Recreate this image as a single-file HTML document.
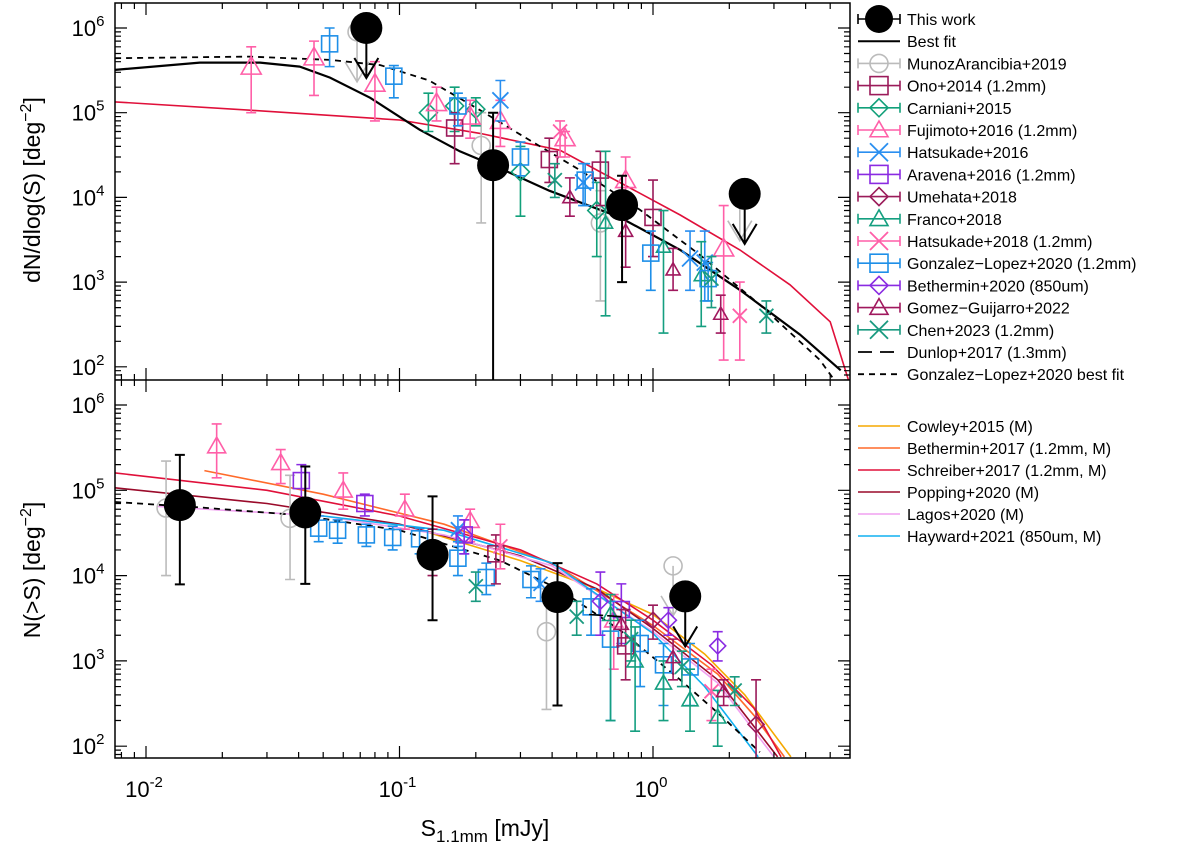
<!DOCTYPE html>
<html><head><meta charset="utf-8"><style>
body{margin:0;background:#fff}
svg{display:block;font-family:"Liberation Sans",sans-serif}
</style></head><body>
<svg id="c" width="1200" height="851" viewBox="0 0 1200 851" xmlns="http://www.w3.org/2000/svg"></svg>
<script>
// ---------- data ----------
// [S (mJy), value, errLow, errHigh]
const thisWorkTop=[[0.074,1.0e6,null,null,'ul'],[0.234,2.4e4,1,1.0e5],[0.755,8.1e3,1.0e3,1.8e4],[2.3,1.1e4,null,null,'ul']];
const thisWorkBot=[[0.0136,6.7e4,7.9e3,2.6e5],[0.0425,5.5e4,8e3,1.9e5],[0.135,1.75e4,3e3,8.5e4],[0.42,5.6e3,300,1.4e4],[1.34,5.7e3,null,null,'ul']];
const munozTop=[[0.068,9e5,null,null,'ul'],[0.21,4.1e4,5e3,1e5],[0.62,5e3,600,1.2e4],[2.2,1.2e4,null,null,'ul']];
const munozBot=[[0.012,6.2e4,1e4,2.2e5],[0.037,4.7e4,9e3,1.5e5],[0.38,2.2e3,270,7e3],[1.2,1.3e4,null,null,'ul']];
const onoTop=[[0.165,6.6e4,2.5e4,1e5],[0.39,2.8e4,1.5e4,5e4],[0.62,2.1e4,8e3,3.5e4],[1.0,5.8e3,2e3,1.6e4]];
const onoBot=[[0.24,1.8e4,8e3,3e4],[0.78,1.5e3,600,4e3]];
const carnianiTop=[[0.13,1e5,6e4,1.7e5],[0.165,1.2e5,6e4,2e5],[0.2,1.1e5,7e4,1.5e5],[0.3,2e4,6e3,4e4],[0.6,7e3,2e3,1.5e4]];
const fujimotoTop=[[0.026,3.5e5,1e5,6e5],[0.046,4.5e5,1.6e5,7e5],[0.08,2.2e5,8e4,4e5],[0.14,1.3e5,8e4,2e5],[0.19,9e4,5e4,1.4e5],[0.25,8e4,4e4,1.4e5],[0.45,5e4,3e4,6e4],[0.78,1.6e4,6e3,3e4],[1.9,2.5e3,120,8e3]];
const fujimotoBot=[[0.019,3.3e5,1.4e5,6e5],[0.034,2.1e5,1.2e5,3e5],[0.06,1e5,6e4,1.6e5],[0.105,6e4,3.5e4,9e4],[0.19,4.4e4,2.5e4,6e4],[0.7,3e3,800,6e3]];
const hatsukadeTop=[[0.25,1.4e5,8e4,2.4e5],[0.53,1.5e4,8e3,2.5e4],[1.4,1.9e3,800,4e3],[1.6,1.7e3,600,4e3]];
const hatsukadeBot=[[0.17,3.5e4,2.2e4,5e4],[0.36,8e3,5e3,1.2e4]];
const aravenaBot=[[0.041,1.3e5,7e4,2e5],[0.073,7e4,5e4,9e4],[0.18,3e4,1.8e4,4.5e4],[0.75,4e3,1.6e3,8e3]];
const umehataBot=[[0.135,2e4,1e4,3.5e4],[1.0,3e3,1.8e3,4.5e3],[2.55,180,60,600]];
const francoTop=[[1.1,2.6e3,250,7e3],[1.55,1.2e3,300,3e3],[0.65,5e3,400,3.5e4]];
const francoBot=[[0.68,3.5e3,200,6e3],[0.85,1e3,150,2.5e3],[1.1,550,200,1e3],[1.4,350,150,800],[1.8,220,100,450]];
const hatsu18Top=[[0.43,6e4,3e4,8e4],[2.2,400,120,1e3]];
const hatsu18Bot=[[0.25,2.2e4,1.2e4,4e4],[1.7,440,200,800]];
const gonzalezTop=[[0.053,6.5e5,3.5e5,1e6],[0.095,2.7e5,1.5e5,3.6e5],[0.17,1.2e5,7e4,1.7e5],[0.3,3e4,1.8e4,4.5e4],[0.54,1.6e4,8e3,2.5e4],[0.98,2.2e3,800,4e3],[1.65,1.1e3,600,1.7e3]];
const gonzalezBot=[[0.048,3.6e4,2.5e4,5e4],[0.057,3.4e4,2.4e4,4.5e4],[0.074,3e4,2.2e4,4e4],[0.094,2.8e4,2e4,3.8e4],[0.12,2.7e4,1.8e4,3.6e4],[0.17,1.6e4,1e4,2.5e4],[0.22,9.5e3,6e3,1.4e4],[0.33,9e3,5.5e3,1.3e4],[0.57,4.3e3,2e3,7e3],[0.68,1.8e3,200,5e3],[0.89,1.6e3,500,3e3],[1.1,900,300,1.6e3],[1.4,850,300,1.6e3]];
const bethermin20Bot=[[0.18,3e4,1.8e4,4.5e4],[0.62,5e3,2e3,1.1e4],[1.15,3e3,2e3,4.2e3],[1.8,1.5e3,1e3,2.2e3]];
const gomezTop=[[0.47,1e4,6e3,1.7e4],[0.78,4e3,1.5e3,8e3],[1.2,1.4e3,800,2.5e3],[1.85,420,250,700]];
const gomezBot=[[0.75,2.7e3,1.5e3,4e3],[1.2,1.1e3,600,1.8e3],[1.9,440,300,600]];
const chenTop=[[0.41,1.6e4,1e4,2.5e4],[1.7,1.1e3,500,2e3],[2.8,400,250,600]];
const chenBot=[[0.2,7.5e3,5e3,1.1e4],[0.5,3.3e3,2e3,5e3],[0.82,1.8e3,1e3,3e3],[1.3,850,500,1.3e3],[2.1,450,300,650]];
// model curves
const bestFitX=[0.00755,0.0163,0.0282,0.0404,0.0532,0.0766,0.12,0.173,0.234,0.39,0.74,1.28,2.2,3.8,5.5];
const bestFitY=[3.2e5,3.9e5,3.9e5,3.5e5,2.6e5,1.5e5,6.3e4,3.5e4,2.4e4,1.2e4,5.8e3,2.4e3,810,240,91];
const glFitTopX=[0.00755,0.0257,0.0532,0.084,0.131,0.208,0.30,0.515,0.89,1.53,2.64,4.56,5.2];
const glFitTopY=[4.4e5,4.6e5,4.2e5,3.65e5,2.4e5,1.07e5,5.5e4,2.1e4,7.1e3,2.1e3,540,120,69];
const redTopX=[0.00755,0.0257,0.1,0.208,0.43,0.74,1.28,2.2,3.47,5.0,5.9];
const redTopY=[1.34e5,1.07e5,8.2e4,5.7e4,3.6e4,1.5e4,6.2e3,2.4e3,930,340,70];
const glFitBotX=[0.00755,0.0163,0.0404,0.1,0.25,0.43,0.74,1.28,1.84,2.64];
const glFitBotY=[7.3e4,6.3e4,5.1e4,3.4e4,1.5e4,6.8e3,2.3e3,600,233,85];
const cowleyX=[0.13,0.3,0.6,1.0,1.6,2.3,3.5];
const cowleyY=[3.2e4,1.5e4,7e3,3.5e3,1.2e3,400,75];
const bethermin17X=[0.017,0.05,0.15,0.4,1.0,1.8,2.5,3.3];
const bethermin17Y=[1.7e5,9e4,4e4,1.4e4,2.6e3,700,230,75];
const schreiberX=[0.00755,0.03,0.1,0.3,0.6,1.0,1.7,2.5,3.2];
const schreiberY=[1.6e5,1.0e5,5e4,2e4,8e3,3e3,900,280,75];
const poppingX=[0.00755,0.03,0.1,0.3,0.6,1.0,1.8,3.1];
const poppingY=[1.07e5,7e4,4e4,1.7e4,7e3,2.4e3,600,75];
const lagosX=[0.011,0.05,0.15,0.4,1.0,1.8,3.0];
const lagosY=[6.5e4,5e4,3e4,1.3e4,2.2e3,550,75];
const haywardX=[0.05,0.15,0.4,1.0,1.6,2.6];
const haywardY=[5e4,3.4e4,1.4e4,2.1e3,500,75];
const xTicks=[-2,-1,0];
const yTicks=[2,3,4,5,6];

// ---------- axes ----------
const NS='http://www.w3.org/2000/svg';
const svg=document.getElementById('c');
const L=115,R=850,T=3,M=380,B=758;
const xs=v=>653+(Math.log10(v))*253.5;
const ysT=v=>28+(6-Math.log10(v))*84.7;
const ysB=v=>405+(6-Math.log10(v))*85.3;
function el(tag,attrs,parent){const e=document.createElementNS(NS,tag);for(const k in attrs)e.setAttribute(k,attrs[k]);(parent||svg).appendChild(e);return e;}
const clipT=el('clipPath',{id:'cT'});el('rect',{x:L,y:T,width:R-L,height:M-T},clipT);
const clipB=el('clipPath',{id:'cB'});el('rect',{x:L,y:M,width:R-L,height:B-M},clipB);
const gT=el('g',{'clip-path':'url(#cT)'});
const gB=el('g',{'clip-path':'url(#cB)'});

function curve(g,X,Y,ys,color,dash,w,name){
  const d=X.map((x,i)=>(i?'L':'M')+xs(x).toFixed(1)+','+ys(Y[i]).toFixed(1)).join('');
  const p=el('path',{d:d,fill:'none',stroke:color,'stroke-width':w||1.6},g);
  if(dash)p.setAttribute('stroke-dasharray',dash);
  
  
}
function marker(g,type,cx,cy,color,s){
  let e;
  if(type==='circle')e=el('circle',{cx,cy,r:s,fill:'none',stroke:color,'stroke-width':1.6},g);
  else if(type==='dot')e=el('circle',{cx,cy,r:s,fill:'#000'},g);
  else if(type==='square')e=el('rect',{x:cx-s,y:cy-s,width:2*s,height:2*s,fill:'none',stroke:color,'stroke-width':1.6},g);
  else if(type==='diamond')e=el('path',{d:`M${cx},${cy-s}L${cx+s},${cy}L${cx},${cy+s}L${cx-s},${cy}Z`,fill:'none',stroke:color,'stroke-width':1.6},g);
  else if(type==='tri')e=el('path',{d:`M${cx},${cy-s}L${cx+s},${cy+s*0.75}L${cx-s},${cy+s*0.75}Z`,fill:'none',stroke:color,'stroke-width':1.6},g);
  else if(type==='x')e=el('path',{d:`M${cx-s},${cy-s}L${cx+s},${cy+s}M${cx+s},${cy-s}L${cx-s},${cy+s}`,fill:'none',stroke:color,'stroke-width':1.8},g);
  return e;
}
function series(g,data,ys,type,color,s,name){
  data.forEach(d=>{
    const cx=xs(d[0]),cy=ys(d[1]);
    const grp=el('g',{},g);
    
    
    const lw=type==='dot'?2:1.6;
    if(d[4]==='ul'){
      const ay=cy+50;
      el('path',{d:`M${cx},${cy}L${cx},${ay}M${cx-12},${ay-20}L${cx},${ay}L${cx+12},${ay-20}`,fill:'none',stroke:color,'stroke-width':lw},grp);
    }else if(d[2]!=null){
      const y1=ys(d[2]),y2=ys(d[3]);
      el('path',{d:`M${cx},${y1}L${cx},${y2}M${cx-5},${y1}L${cx+5},${y1}M${cx-5},${y2}L${cx+5},${y2}`,fill:'none',stroke:color,'stroke-width':lw},grp);
    }
    marker(grp,type,cx,cy,color,s);
  });
}
// ---- top panel ----
curve(gT,redTopX,redTopY,ysT,'#e0103a',null,1.6,'schreiber-curve-top');
curve(gT,glFitTopX,glFitTopY,ysT,'#000','6,5',1.8,'gonzalez-lopez-fit-top');
curve(gT,bestFitX,bestFitY,ysT,'#000',null,2.2,'best-fit-curve');
series(gT,munozTop,ysT,'circle','#bbbbbb',9,'munoz');
series(gT,carnianiTop,ysT,'diamond','#12a07a',9,'carniani');
series(gT,fujimotoTop,ysT,'tri','#ff5fa8',10,'fujimoto');
series(gT,onoTop,ysT,'square','#9b1b5a',8,'ono');
series(gT,hatsukadeTop,ysT,'x','#2a8ff0',8,'hatsukade');
series(gT,francoTop,ysT,'tri','#159f80',7,'franco');
series(gT,hatsu18Top,ysT,'x','#ff5fa8',7,'hatsukade2018');
series(gT,gonzalezTop,ysT,'square','#1e8fe8',8,'gonzalez-lopez');
series(gT,gomezTop,ysT,'tri','#a0185e',7,'gomez-guijarro');
series(gT,chenTop,ysT,'x','#1a9a80',7,'chen');
series(gT,thisWorkTop,ysT,'dot','#000',16,'this-work');
// ---- bottom panel ----
curve(gB,cowleyX,cowleyY,ysB,'#f5a800',null,1.6,'cowley-curve');
curve(gB,bethermin17X,bethermin17Y,ysB,'#ff6a2a',null,1.6,'bethermin2017-curve');
curve(gB,schreiberX,schreiberY,ysB,'#e0103a',null,1.6,'schreiber-curve');
curve(gB,poppingX,poppingY,ysB,'#9a0a2a',null,1.6,'popping-curve');
curve(gB,lagosX,lagosY,ysB,'#f0a0f0',null,1.6,'lagos-curve');
curve(gB,haywardX,haywardY,ysB,'#10b0f0',null,1.6,'hayward-curve');
curve(gB,glFitBotX,glFitBotY,ysB,'#000','6,5',1.8,'gonzalez-lopez-fit-bottom');
series(gB,munozBot,ysB,'circle','#bbbbbb',9,'munoz');
series(gB,fujimotoBot,ysB,'tri','#ff5fa8',9,'fujimoto');
series(gB,aravenaBot,ysB,'square','#8a2be2',8,'aravena');
series(gB,gonzalezBot,ysB,'square','#1e8fe8',8,'gonzalez-lopez');
series(gB,onoBot,ysB,'square','#9b1b5a',8,'ono');
series(gB,hatsukadeBot,ysB,'x','#2a8ff0',7,'hatsukade');
series(gB,hatsu18Bot,ysB,'x','#ff5fa8',7,'hatsukade2018');
series(gB,umehataBot,ysB,'diamond','#9b1b5a',8,'umehata');
series(gB,bethermin20Bot,ysB,'diamond','#8a2be2',8,'bethermin2020');
series(gB,chenBot,ysB,'x','#1a9a80',7,'chen');
series(gB,francoBot,ysB,'tri','#159f80',8,'franco');
series(gB,gomezBot,ysB,'tri','#a0185e',7,'gomez-guijarro');
series(gB,thisWorkBot,ysB,'dot','#000',16,'this-work');
el('path',{d:`M${xs(0.56)},${ysB(3.5e3)}L${xs(0.75)},${ysB(3.3e3)}`,stroke:'#000','stroke-width':1.6,'stroke-dasharray':'14,4'});

// ---- frames & ticks ----
const ax=el('g',{stroke:'#000','stroke-width':1.5,fill:'none'});


el('rect',{x:L,y:T,width:R-L,height:B-T},ax);
el('line',{x1:L,y1:M,x2:R,y2:M},ax);
let td='';
for(let e=-3;e<=0;e++)for(let k=1;k<=9;k++){
  const px=xs(k*Math.pow(10,e));if(px<L||px>R)continue;
  const len=k===1?12:6;
  [T,M,B].forEach(y=>{ if(y!==T) td+=`M${px},${y}L${px},${y-len}`; if(y!==B) td+=`M${px},${y}L${px},${y+len}`;});
}
[[ysT,T,M],[ysB,M,B]].forEach(([f,a,b])=>{
  for(let e=1;e<=6;e++)for(let k=1;k<=9;k++){
    const py=f(k*Math.pow(10,e));if(py<a||py>b)continue;
    const len=k===1?12:6;
    td+=`M${L},${py}L${L+len},${py}M${R},${py}L${R-len},${py}`;
  }
});
el('path',{d:td,'stroke-width':1.2},ax);
// labels
function txt(x,y,s,attrs,name){const t=el('text',Object.assign({x,y,'font-size':22,fill:'#000'},attrs||{}));t.innerHTML=s;return t;}
xTicks.forEach(e=>txt(xs(Math.pow(10,e))-2,797,`10<tspan dy="-10" font-size="15">${e}</tspan>`,{'text-anchor':'middle'},'x-tick-label'));
yTicks.forEach(e=>{
  txt(88,ysT(Math.pow(10,e))+8,`10<tspan dy="-10" font-size="15">${e}</tspan>`,{'text-anchor':'middle'},'y-tick-label-top');
  txt(88,ysB(Math.pow(10,e))+8,`10<tspan dy="-10" font-size="15">${e}</tspan>`,{'text-anchor':'middle'},'y-tick-label-bottom');
});
txt(485,836,'S<tspan dy="6" font-size="17">1.1mm</tspan><tspan dy="-6"> [mJy]</tspan>',{'text-anchor':'middle','font-size':23},'x-axis-title');
txt(0,0,'dN/dlog(S) [deg<tspan dy="-9" font-size="16">−2</tspan><tspan dy="9">]</tspan>',{'text-anchor':'middle','font-size':23,transform:'translate(40,190) rotate(-90)'},'y-axis-title-top');
txt(0,0,'N(&gt;S) [deg<tspan dy="-9" font-size="16">−2</tspan><tspan dy="9">]</tspan>',{'text-anchor':'middle','font-size':23,transform:'translate(40,570) rotate(-90)'},'y-axis-title-bottom');

// ---- legends ----
const leg1=[['This work','dot','#000'],['Best fit','line','#000'],['MunozArancibia+2019','circle','#bbbbbb'],['Ono+2014 (1.2mm)','square','#9b1b5a'],['Carniani+2015','diamond','#12a07a'],['Fujimoto+2016 (1.2mm)','tri','#ff5fa8'],['Hatsukade+2016','x','#2a8ff0'],['Aravena+2016 (1.2mm)','square','#8a2be2'],['Umehata+2018','diamond','#9b1b5a'],['Franco+2018','tri','#159f80'],['Hatsukade+2018 (1.2mm)','x','#ff5fa8'],['Gonzalez−Lopez+2020 (1.2mm)','square','#1e8fe8'],['Bethermin+2020 (850um)','diamond','#8a2be2'],['Gomez−Guijarro+2022','tri','#a0185e'],['Chen+2023 (1.2mm)','x','#1a9a80'],['Dunlop+2017 (1.3mm)','ldash','#000'],['Gonzalez−Lopez+2020 best fit','dash','#000']];
const leg2=[['Cowley+2015 (M)','#f5a800'],['Bethermin+2017 (1.2mm, M)','#ff6a2a'],['Schreiber+2017 (1.2mm, M)','#e0103a'],['Popping+2020 (M)','#9a0a2a'],['Lagos+2020 (M)','#f0a0f0'],['Hayward+2021 (850um, M)','#10b0f0']];
leg1.forEach((l,i)=>{
  const y=19+i*22.2;const g=el('g',{});
  
  
  if(l[1]==='line')el('line',{x1:858,y1:y,x2:900,y2:y,stroke:'#000','stroke-width':2},g);
  else if(l[1]==='dash')el('line',{x1:858,y1:y,x2:900,y2:y,stroke:'#000','stroke-width':1.8,'stroke-dasharray':'6,5'},g);
  else if(l[1]==='ldash')el('line',{x1:858,y1:y,x2:900,y2:y,stroke:'#000','stroke-width':1.8,'stroke-dasharray':'14,8'},g);
  else{
    el('path',{d:`M858,${y}L900,${y}M858,${y-5}L858,${y+5}M900,${y-5}L900,${y+5}`,stroke:l[2],'stroke-width':1.6,fill:'none'},g);
    marker(g,l[1],879,y,l[2],l[1]==='dot'?14:9);
  }
  const t=el('text',{x:907,y:y+6,'font-size':16,fill:'#000'},g);t.textContent=l[0];
});
leg2.forEach((l,i)=>{
  const y=426+i*22;const g=el('g',{});
  
  
  el('line',{x1:858,y1:y,x2:900,y2:y,stroke:l[1],'stroke-width':1.6},g);
  const t=el('text',{x:907,y:y+6,'font-size':16,fill:'#000'},g);t.textContent=l[0];
});
</script>
</body></html>
